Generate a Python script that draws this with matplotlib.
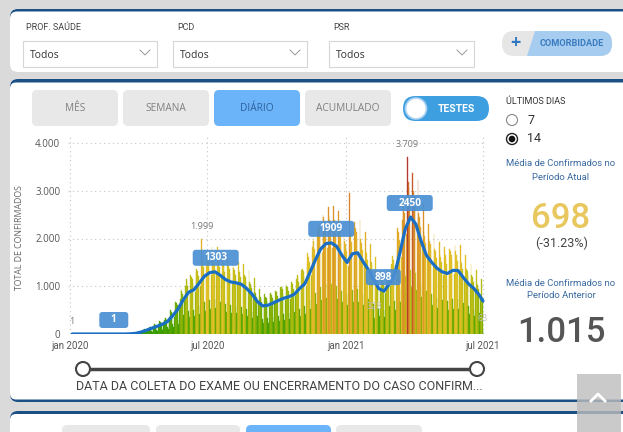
import numpy as np
import matplotlib
matplotlib.use('Agg')
import matplotlib.pyplot as plt
import matplotlib.dates as mdates
from matplotlib.colors import LinearSegmentedColormap, Normalize
from matplotlib.patches import FancyBboxPatch, Rectangle, Circle, Polygon

plt.rcParams['font.family'] = ['Open Sans', 'DejaVu Sans']

# daily confirmed cases, one row per week (rows start on Wed 2020-01-01)
weekly_rows = [
    [1, 0, 0, 0, 0, 0, 0],
    [0, 0, 0, 0, 0, 0, 0],
    [0, 0, 0, 0, 0, 0, 0],
    [0, 0, 0, 0, 0, 0, 0],
    [0, 0, 0, 0, 0, 0, 0],
    [0, 0, 0, 0, 0, 0, 0],
    [0, 0, 0, 0, 0, 0, 0],
    [0, 0, 0, 0, 0, 0, 0],
    [0, 0, 0, 0, 0, 0, 0],
    [0, 0, 0, 0, 0, 0, 0],
    [0, 0, 1, 0, 0, 1, 2],
    [3, 2, 5, 1, 0, 4, 6],
    [12, 15, 18, 6, 4, 14, 20],
    [45, 52, 48, 20, 15, 38, 60],
    [95, 102, 88, 40, 30, 78, 115],
    [150, 142, 138, 62, 48, 118, 170],
    [205, 198, 185, 85, 66, 150, 225],
    [262, 245, 230, 110, 82, 190, 285],
    [340, 322, 300, 140, 105, 250, 365],
    [500, 470, 440, 210, 150, 360, 530],
    [680, 650, 600, 290, 210, 500, 730],
    [940, 900, 830, 400, 290, 690, 1000],
    [1150, 1100, 1010, 480, 350, 840, 1230],
    [1200, 1150, 1060, 510, 370, 870, 1290],
    [1370, 1310, 1210, 580, 420, 1000, 1999],
    [1590, 1520, 1400, 670, 490, 1160, 1710],
    [1690, 1620, 1500, 720, 520, 1240, 1820],
    [1710, 1640, 1480, 730, 540, 1250, 1830],
    [1600, 1540, 1400, 680, 490, 1170, 1720],
    [1480, 1420, 1300, 630, 460, 1080, 1590],
    [1420, 1360, 1250, 600, 440, 1040, 1530],
    [1390, 1340, 1230, 590, 430, 1020, 1500],
    [1350, 1300, 1200, 570, 420, 990, 1460],
    [1240, 1190, 1090, 520, 380, 900, 1330],
    [1090, 1050, 970, 460, 340, 800, 1180],
    [880, 850, 780, 370, 270, 650, 950],
    [770, 740, 680, 320, 240, 560, 830],
    [780, 750, 690, 330, 240, 570, 840],
    [850, 810, 750, 360, 260, 620, 910],
    [910, 880, 800, 380, 280, 670, 980],
    [980, 940, 860, 410, 300, 710, 1050],
    [1010, 980, 900, 430, 310, 740, 1090],
    [1080, 1040, 950, 460, 330, 790, 1160],
    [1240, 1190, 1090, 520, 380, 900, 1330],
    [1370, 1310, 1210, 580, 420, 1000, 1470],
    [1690, 1620, 1500, 720, 520, 1240, 1820],
    [2020, 1940, 1780, 850, 620, 1470, 2170],
    [2310, 2230, 2050, 980, 710, 1690, 2490],
    [2460, 2360, 2170, 1040, 760, 1800, 2650],
    [2480, 2390, 2200, 1050, 760, 1810, 2680],
    [2390, 2300, 2120, 1010, 740, 1750, 2580],
    [2150, 2060, 1900, 910, 660, 1570, 2310],
    [1950, 1880, 1730, 830, 600, 1430, 2950],
    [2180, 2100, 1930, 920, 670, 1600, 2350],
    [2210, 2130, 1960, 940, 680, 1620, 2380],
    [1980, 1900, 1750, 840, 610, 1440, 2130],
    [1760, 1690, 1550, 740, 540, 1280, 1890],
    [1500, 1440, 1320, 630, 328, 1090, 1610],
    [1240, 1190, 1090, 520, 380, 900, 1330],
    [1170, 1130, 1040, 500, 360, 860, 1260],
    [1370, 1310, 1210, 580, 420, 1000, 1470],
    [1630, 1560, 1440, 690, 500, 1190, 1750],
    [2210, 2130, 1960, 940, 680, 1620, 2380],
    [2860, 2750, 2530, 1210, 880, 2090, 3709],
    [3190, 3060, 2820, 1350, 980, 2330, 3370],
    [2990, 2880, 2650, 1270, 920, 2190, 3220],
    [2540, 2440, 2240, 1070, 780, 1850, 2730],
    [2150, 2060, 1900, 910, 660, 1570, 2310],
    [1950, 1880, 1730, 830, 600, 1430, 2100],
    [1790, 1730, 1590, 760, 550, 1310, 1930],
    [1690, 1620, 1500, 720, 520, 1240, 1820],
    [1650, 1590, 1460, 700, 510, 1210, 1780],
    [1730, 1660, 1530, 730, 530, 1260, 1860],
    [1730, 1660, 1530, 730, 530, 1260, 1860],
    [1530, 1480, 1360, 650, 470, 1120, 1650],
    [1370, 1310, 1210, 580, 420, 1000, 1470],
    [1240, 1190, 1090, 520, 380, 900, 1330],
    [1070, 1030, 940, 450, 330, 780, 1150],
    [760, 63],
]

# moving average (one point per week, mid-week)
ma_values = [0, 0, 0, 0, 0, 0, 0, 0, 0, 0, 0, 4, 13, 40, 78, 119, 159, 201,
             260, 383, 520, 716, 873, 925, 1062, 1210, 1285, 1303, 1230, 1140,
             1090, 1072, 1041, 952, 838, 683, 590, 601, 650, 702, 748, 781,
             830, 951, 1052, 1298, 1552, 1781, 1893, 1909, 1838, 1652, 1498,
             1680, 1702, 1519, 1351, 1148, 951, 898, 1052, 1249, 1703, 2198,
             2450, 2302, 1948, 1651, 1502, 1379, 1301, 1268, 1332, 1329, 1181,
             1049, 952, 818, 690]

label_dates = ['2020-02-28', '2020-07-12', '2020-12-12', '2021-02-19', '2021-03-26']
label_vals = [0, 1303, 1909, 898, 2450]
label_texts = ['1', '1303', '1909', '898', '2450']

# gray value labels on single bars
value_dates = ['2020-01-01', '2020-06-23', '2021-03-23', '2021-02-07', '2021-07-01']
value_texts = ['1', '1.999', '3.709', '328', '63']

tick_dates = ['2020-01-01', '2020-07-01', '2021-01-01', '2021-07-01']
tick_labels = ['jan 2020', 'jul 2020', 'jan 2021', 'jul 2021']

daily = np.array([v for row in weekly_rows for v in row])
dates = np.datetime64('2020-01-01') + np.arange(len(daily))
ma_dates = np.concatenate([np.datetime64('2020-01-04') + 7 * np.arange(len(ma_values) - 1),
                           [dates[-1]]])

W, H = 623, 432
fig = plt.figure(figsize=(W / 100, H / 100), dpi=100)
fig.patch.set_facecolor('#dadada')

bg = fig.add_axes([0, 0, 1, 1], zorder=0)
bg.set_xlim(0, W)
bg.set_ylim(H, 0)
bg.axis('off')


def rbox(a, x0, y0, x1, y1, fc, r=4, ec='none', lw=0, z=1, alpha=1):
    p = FancyBboxPatch((x0, y0), x1 - x0, y1 - y0,
                       boxstyle=f"round,pad=0,rounding_size={r}",
                       fc=fc, ec=ec, lw=lw, zorder=z, alpha=alpha)
    a.add_patch(p)


DARKBLUE = '#1c4f85'
# panels
rbox(bg, 10, 9, 660, 72, DARKBLUE, r=8)
rbox(bg, 10, 11.5, 660, 72, 'white', r=7)
rbox(bg, 10, 79, 660, 402, DARKBLUE, r=8)
rbox(bg, 10, 82.5, 660, 399.5, 'white', r=6)
rbox(bg, 10, 411, 660, 460, DARKBLUE, r=8)
rbox(bg, 10, 414, 660, 460, 'white', r=6)

# filters
for lx, x0, x1, name in [(26, 23, 157, 'PROF. SAÚDE'), (177, 173, 307, 'PCD'),
                         (333, 329, 474, 'PSR')]:
    bg.text(lx, 27, name, fontsize=6.5, color='#444', family='Roboto',
            va='center', ha='left')
    bg.add_patch(Rectangle((x0, 41), x1 - x0, 26, fc='white', ec='#d6d6d6', lw=0.8))
    bg.text(x0 + 7, 55, 'Todos', fontsize=7.5, color='#333', va='center')
    cx = x1 - 12
    bg.plot([cx - 5, cx, cx + 5], [50, 55, 50], color='#999', lw=0.7)

# comorbidade button
rbox(bg, 502, 31, 612, 56, '#e6e6e6', r=12)
bg.add_patch(Polygon([(535, 31), (600, 31), (600, 56), (527, 56)], fc='#a6cdf0', ec='none'))
rbox(bg, 585, 31, 612, 56, '#a6cdf0', r=12)
bg.text(515, 43.5, '+', fontsize=13, color='#2f78c0', weight='bold', ha='center', va='center')
bg.text(572, 44, 'COMORBIDADE', fontsize=6.6, color='#3a7bbf', weight='bold',
        family='Roboto', ha='center', va='center')

# period buttons
for x0, name, on in [(32, 'MÊS', False), (123, 'SEMANA', False),
                     (214, 'DIÁRIO', True), (305, 'ACUMULADO', False)]:
    rbox(bg, x0, 90, x0 + 86, 126, '#6cb4fa' if on else '#e8e8e8', r=5)
    bg.text(x0 + 43, 108.5, name, fontsize=7.3, color='#2d5f9a' if on else '#7f7f7f',
            ha='center', va='center')

# toggle
rbox(bg, 403, 96, 489, 121, '#3e9fe0', r=12.5)
bg.add_patch(Circle((416, 108.5), 10.5, fc='white', ec='#a8d0f0', lw=1.2, zorder=2))
bg.text(456, 108.5, 'TESTES', fontsize=7.5, color='white', weight='bold',
        family='Roboto', ha='center', va='center')

# right side info
bg.text(506, 101, 'ÚLTIMOS DIAS', fontsize=6.5, color='#333', family='Roboto', va='center')
bg.add_patch(Circle((512, 120), 5.5, fc='white', ec='#888', lw=0.8))
bg.add_patch(Circle((512, 139), 5.5, fc='white', ec='#222', lw=1))
bg.add_patch(Circle((512, 139), 3.3, fc='#111', ec='none'))
bg.text(527, 120, '7', fontsize=9, color='#333', va='center', family='Roboto')
bg.text(527, 139, '14', fontsize=9, color='#333', va='center', family='Roboto')

BLUE_T = '#3a6aa0'
bg.text(561, 164, 'Média de Confirmados no', fontsize=6.8, color=BLUE_T,
        family='Roboto', ha='center', va='center')
bg.text(561, 177, 'Período Atual', fontsize=6.8, color=BLUE_T,
        family='Roboto', ha='center', va='center')
bg.text(561, 219, '698', fontsize=25, color='#e8c75e', family='Roboto', weight=500,
        ha='center', va='center')
bg.text(562, 243, '(-31.23%)', fontsize=9, color='#444', family='Roboto',
        ha='center', va='center')
bg.text(561, 283, 'Média de Confirmados no', fontsize=6.8, color=BLUE_T,
        family='Roboto', ha='center', va='center')
bg.text(561, 295, 'Período Anterior', fontsize=6.8, color=BLUE_T,
        family='Roboto', ha='center', va='center')
bg.text(561, 332, '1.015', fontsize=25, color='#555', family='Roboto', weight=500,
        ha='center', va='center')

# slider + caption
bg.plot([83, 477], [369, 369], color='#444', lw=2.5, zorder=2)
for cx in (83, 477):
    bg.add_patch(Circle((cx, 369), 7, fc='white', ec='#444', lw=1.5, zorder=3))
bg.text(279, 386, 'DATA DA COLETA DO EXAME OU ENCERRAMENTO DO CASO CONFIRM...',
        fontsize=9, color='#444', family='Roboto', ha='center', va='center')
bg.text(20, 238, 'TOTAL DE CONFIRMADOS', fontsize=6.3, color='#666', rotation=90,
        ha='center', va='center')

# third panel buttons (cut off)
for x0, x1, on in [(62, 150, False), (156, 240, False), (246, 331, True), (336, 422, False)]:
    rbox(bg, x0, 425, x1, 450, '#6cb4fa' if on else '#e8e8e8', r=5)

# chart
x_left_day, x_right_day = -2, 551
px_day = 0.755
ax_l = 70 + x_left_day * px_day
ax_r = 70 + x_right_day * px_day
y0px, ymax = 334, 4150
ytop = y0px - ymax * 0.04775
ax = fig.add_axes([ax_l / W, (H - y0px) / H, (ax_r - ax_l) / W, (y0px - ytop) / H], zorder=1)
ax.set_facecolor('none')

cmap = LinearSegmentedColormap.from_list('cases', [
    (0.0, '#2f9a00'), (0.15, '#5fa800'), (0.3, '#b4bc12'), (0.45, '#e2c228'),
    (0.6, '#e0a828'), (0.8, '#d8842a'), (1.0, '#b0382c')])
norm = Normalize(0, daily.max())
cols = cmap(norm(daily))
ax.bar(dates, daily, width=1.0, color=cols, edgecolor=cols, linewidth=0.25, zorder=2)
ax.plot(ma_dates, ma_values, color='#1a6fc4', lw=2.3, solid_joinstyle='round',
        solid_capstyle='round', zorder=3)

ax.set_xlim(np.datetime64('2020-01-01') + x_left_day, np.datetime64('2020-01-01') + x_right_day)
ax.set_ylim(0, ymax)
ax.set_yticks([0, 1000, 2000, 3000, 4000])
ax.set_yticklabels(['0', '1.000', '2.000', '3.000', '4.000'])
ax.set_xticks([np.datetime64(d) for d in tick_dates])
ax.set_xticklabels(tick_labels, family='Roboto')
ax.tick_params(length=0, labelsize=7, colors='#555')
ax.tick_params(axis='y', pad=6)
ax.tick_params(axis='x', pad=5)
for s in ax.spines.values():
    s.set_visible(False)
ax.grid(True, ls=(0, (1, 3)), color='#c4c4c4', lw=0.8)
ax.set_axisbelow(True)

# overlay for labels
fg = fig.add_axes([0, 0, 1, 1], zorder=3)
fg.set_xlim(0, W)
fg.set_ylim(H, 0)
fg.axis('off')


def to_px(d, v):
    x, y = ax.transData.transform((mdates.date2num(np.datetime64(d)), v))
    return x, H - y


for d, v, t in zip(label_dates, label_vals, label_texts):
    x, y = to_px(d, v)
    w = max(29, 11 * len(t) + 2)
    rbox(fg, x - w / 2, y - 22, x + w / 2, y - 6, '#4a8fd4', r=3, z=4, alpha=0.92)
    fg.text(x, y - 14, t, fontsize=7.3, color='white', weight='bold',
            ha='center', va='center', zorder=5)

# value labels above single bars
for d, txt in zip(value_dates, value_texts):
    i = int((np.datetime64(d) - dates[0]).astype(int))
    x, y = to_px(dates[i], daily[i])
    col = '#c0c0c0' if txt in ('328', '63') else '#777'
    fg.text(x + (2 if i == 0 else 0), y - 12, txt, fontsize=6.5, color=col,
            ha='center', va='center', zorder=5)

# scroll-to-top button
fg.add_patch(Rectangle((577, 374), 44, 60, fc='#bdbdbd', ec='none', alpha=0.8, zorder=6))
fg.plot([591, 598, 605], [401, 394, 401], color='white', lw=2, zorder=7)

fig.savefig('out.png', dpi=100, facecolor=fig.get_facecolor())
